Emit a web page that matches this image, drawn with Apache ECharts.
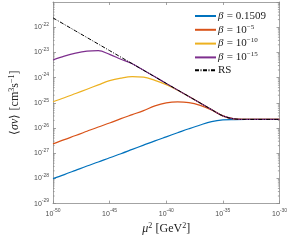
<!DOCTYPE html>
<html><head><meta charset="utf-8">
<script src="https://cdn.jsdelivr.net/npm/echarts@6/dist/echarts.min.js"></script>
<style>html,body{margin:0;padding:0;background:#fff}#c{width:290px;height:240px}</style>
</head><body><div id="c"></div>
<script>
// x: log10 of mu^2 [GeV^2]
const muSqExp = [-50,-49,-48,-47,-46,-45,-44,-43,-42,-41,-40,-39,-38,-37,-36,-35,-34,-33,-32,-31,-30];
// log10 of <sigma v> [cm^3 s^-1]
const beta0_1509 = [-28.01,-27.85,-27.68,-27.51,-27.35,-27.18,-27.02,-26.85,-26.68,-26.51,-26.35,-26.19,-26.03,-25.88,-25.75,-25.68,-25.665,-25.66,-25.66,-25.66,-25.66];
const beta1e5 = [-26.63,-26.46,-26.30,-26.13,-25.96,-25.80,-25.63,-25.47,-25.31,-25.12,-25.00,-24.96,-24.99,-25.10,-25.28,-25.52,-25.64,-25.66,-25.66,-25.66,-25.66];
const beta1e10 = [-24.96,-24.80,-24.63,-24.46,-24.29,-24.12,-24.02,-23.965,-23.98,-24.11,-24.28,-24.50,-24.75,-25.01,-25.27,-25.52,-25.64,-25.66,-25.66,-25.66,-25.66];
const beta1e15 = [-23.30,-23.15,-23.03,-22.95,-22.93,-23.08,-23.27,-23.45,-23.71,-23.97,-24.23,-24.49,-24.75,-25.01,-25.27,-25.52,-25.64,-25.66,-25.66,-25.66,-25.66];
const rs = [-21.63,-21.89,-22.15,-22.41,-22.67,-22.93,-23.19,-23.45,-23.71,-23.97,-24.23,-24.49,-24.75,-25.01,-25.27,-25.52,-25.64,-25.66,-25.66,-25.66,-25.66];
const seriesNames = ['b1','b2','b3','b4','RS'];
const seriesColors = ['#0072BD','#D95319','#EDB120','#7E2F8E','#000000'];
const xRange = [-50,-30];   // decades shown on x
const yRange = [-29,-21];   // decades shown on y

const toPts = arr => muSqExp.map((e,i)=>[e, arr[i]]);
const allData = [beta0_1509, beta1e5, beta1e10, beta1e15, rs];

const serif = 'Liberation Serif';
const sans = 'Liberation Sans';
const tickRich = {
  b:{fontFamily:sans,fontSize:7,color:'#4d4d4d'},
  s:{fontFamily:sans,fontSize:5,color:'#4d4d4d',padding:[0,0,5,0]}
};
const fmtTick = v => '{b|10}{s|' + Math.round(v) + '}';
const axisGray = '#8c8c8c';

// minor tick positions on y axis (2..9 x 10^n)
const minorY = [];
for (let n=yRange[0];n<yRange[1];n++) for (let k=2;k<=9;k++) minorY.push(n+Math.log10(k));

const chart = echarts.init(document.getElementById('c'));
const series = allData.map((d,i)=>({
  name: seriesNames[i], type:'line', data: toPts(d), showSymbol:false, symbol:'none',
  smooth:0.35, z: 2+i,
  lineStyle:{color:seriesColors[i], width: i===4?1:1.2, type: i===4?[4,1.5,1,1.5]:'solid'},
  itemStyle:{color:seriesColors[i]}
}));
series.push({
  type:'custom', coordinateSystem:'cartesian2d', silent:true, z:1,
  data: minorY.map(v=>[xRange[0], v]),
  renderItem:(params, api)=>{
    const y = api.value(1);
    const l = api.coord([xRange[0], y]);
    const r = api.coord([xRange[1], y]);
    const st = {stroke:axisGray, lineWidth:0.8};
    return {type:'group', children:[
      {type:'line', shape:{x1:l[0], y1:l[1], x2:l[0]+1.6, y2:l[1]}, style:st},
      {type:'line', shape:{x1:r[0], y1:r[1], x2:r[0]-1.6, y2:r[1]}, style:st}
    ]};
  }
});

const legendText = {
  b1:'{i|β} {n|= 0.1509}',
  b2:'{i|β} {n|= 10}{s|−5}',
  b3:'{i|β} {n|= 10}{s|−10}',
  b4:'{i|β} {n|= 10}{s|−15}',
  RS:'{n|RS}'
};

const axCommon = {
  axisLine:{show:true,onZero:false,lineStyle:{color:axisGray,width:0.8}},
  axisTick:{show:true,inside:true,length:3,lineStyle:{color:axisGray,width:0.8}},
  splitLine:{show:false}
};

chart.setOption({
  animation:false,
  backgroundColor:'#fff',
  grid:{left:41, right:8, top:2, bottom:30, containLabel:false},
  legend:{
    data: seriesNames, orient:'vertical', left:194, top:10, padding:0,
    itemWidth:21, itemHeight:10, itemGap:1.3,
    itemStyle:{opacity:0},
    formatter: n=>legendText[n],
    textStyle:{
      padding:[0,0,0,-3],
      rich:{
        i:{fontFamily:serif,fontStyle:'italic',fontSize:11,color:'#222'},
        n:{fontFamily:serif,fontSize:11,color:'#222'},
        s:{fontFamily:serif,fontSize:7,color:'#222',padding:[0,0,6,0]}
      }
    }
  },
  xAxis:[Object.assign({
    type:'value', min:xRange[0], max:xRange[1], interval:5,
    name:'{m|μ}{s|2} {n|[GeV}{s|2}{n|]}', nameLocation:'middle', nameGap:17,
    nameTextStyle:{rich:{
      m:{fontFamily:serif,fontStyle:'italic',fontSize:12,color:'#222'},
      n:{fontFamily:serif,fontSize:12,color:'#222'},
      s:{fontFamily:serif,fontSize:8,color:'#222',padding:[0,0,6,0]}
    }},
    axisLabel:{formatter:fmtTick, rich:tickRich, margin:5}
  }, axCommon),
  Object.assign({
    type:'value', min:xRange[0], max:xRange[1], interval:5, position:'top',
    axisLabel:{show:false}
  }, axCommon)],
  yAxis:[Object.assign({
    type:'value', min:yRange[0], max:yRange[1], interval:1,
    name:'{a|⟨}{i|σv}{a|⟩} {n|[cm}{s|3}{n|s}{s|−1}{n|]}', nameLocation:'middle', nameGap:31, nameRotate:90,
    nameTextStyle:{rich:{
      a:{fontFamily:serif,fontSize:12,color:'#222'},
      i:{fontFamily:serif,fontStyle:'italic',fontSize:12,color:'#222'},
      n:{fontFamily:serif,fontSize:12,color:'#222'},
      s:{fontFamily:serif,fontSize:8,color:'#222',padding:[0,0,6,0]}
    }},
    axisLabel:{formatter:fmtTick, rich:tickRich, margin:4, showMaxLabel:false}
  }, axCommon),
  Object.assign({
    type:'value', min:yRange[0], max:yRange[1], interval:1, position:'right',
    axisLabel:{show:false}
  }, axCommon)],
  series: series
});
</script>
</body></html>
